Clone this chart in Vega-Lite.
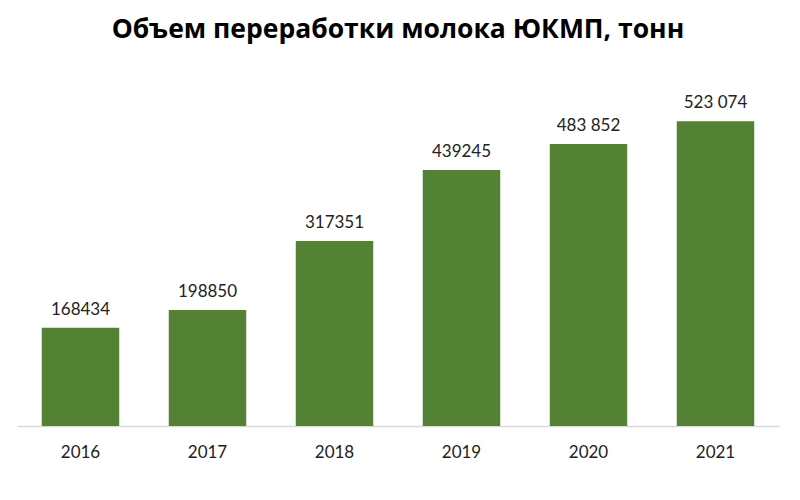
{
  "$schema": "https://vega.github.io/schema/vega-lite/v6.json",
  "autosize": {"type": "none"},
  "width": 762,
  "height": 366,
  "padding": {"left": 17, "top": 60, "right": 21, "bottom": 74},
  "background": "white",
  "title": {
    "text": "Объем переработки молока ЮКМП, тонн",
    "anchor": "middle",
    "orient": "top",
    "font": "Open Sans",
    "fontSize": 26.5,
    "fontWeight": "bold",
    "color": "#000000",
    "baseline": "alphabetic",
    "offset": -4
  },
  "data": {
    "values": [
      {"year": "2016", "value": 168434, "label": "168434"},
      {"year": "2017", "value": 198850, "label": "198850"},
      {"year": "2018", "value": 317351, "label": "317351"},
      {"year": "2019", "value": 439245, "label": "439245"},
      {"year": "2020", "value": 483852, "label": "483 852"},
      {"year": "2021", "value": 523074, "label": "523 074"}
    ]
  },
  "encoding": {
    "x": {
      "field": "year",
      "type": "ordinal",
      "title": null,
      "scale": {"paddingInner": 0.39, "paddingOuter": 0.195},
      "axis": {
        "labelAngle": 0,
        "labelFont": "Lato",
        "labelFontSize": 17,
        "labelColor": "#222222",
        "labelPadding": 18,
        "ticks": false,
        "domainColor": "#d9d9d9",
        "domainWidth": 1.5
      }
    },
    "y": {
      "field": "value",
      "type": "quantitative",
      "scale": {"domain": [0, 628000]},
      "axis": null
    }
  },
  "layer": [
    {"mark": {"type": "bar", "color": "#548235"}},
    {
      "mark": {
        "type": "text",
        "baseline": "alphabetic",
        "dy": -13,
        "font": "Lato",
        "fontSize": 17,
        "color": "#222222"
      },
      "encoding": {"text": {"field": "label"}}
    }
  ],
  "config": {"view": {"stroke": null}}
}
